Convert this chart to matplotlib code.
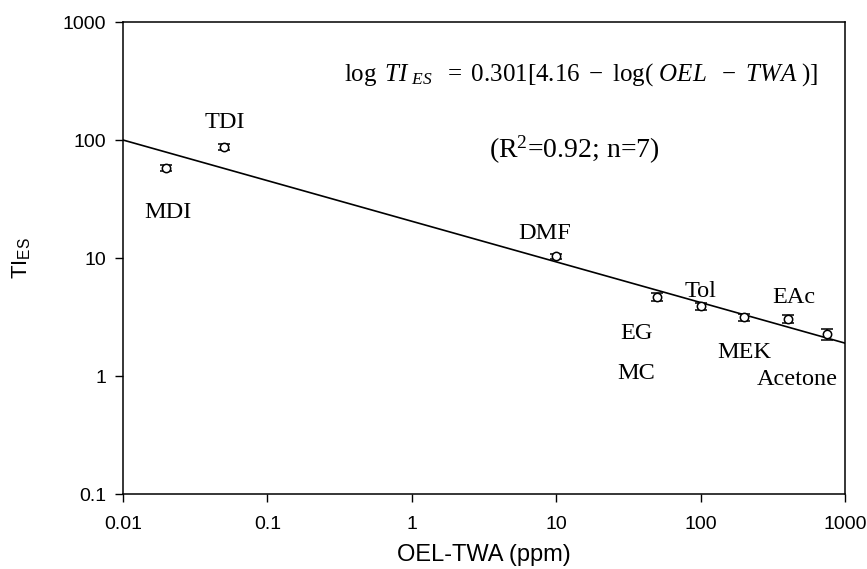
import numpy as np
import matplotlib
matplotlib.use("Agg")
import matplotlib.pyplot as plt

plt.rcParams['font.family'] = ['Liberation Sans', 'DejaVu Sans']
plt.rcParams['mathtext.fontset'] = 'custom'
plt.rcParams['mathtext.rm'] = 'Liberation Serif'
plt.rcParams['mathtext.it'] = 'Liberation Serif:italic'
plt.rcParams['mathtext.sf'] = 'Liberation Sans'

# solvent data: OEL-TWA (ppm) vs TI_ES, with spread
oel_twa = [0.02, 0.05, 10, 50, 100, 200, 400, 750]
ti_es = [58, 87, 10.3, 4.7, 3.9, 3.15, 3.05, 2.25]
ti_err = [3, 5, 0.5, 0.4, 0.25, 0.2, 0.22, 0.25]

# label text and where it sits (data coords)
names = ["MDI", "TDI", "DMF", "EG", "MC", "Tol", "MEK", "EAc", "Acetone"]
name_x = [0.0205, 0.051, 8.3, 36, 36, 100, 200, 440, 470]
name_y = [24.5, 142, 16.2, 2.27, 1.04, 5.2, 1.57, 4.65, 0.94]

# regression line ends
fit_x = [0.01, 1000]
fit_y = [100, 1.9]

fig = plt.figure(figsize=(8.67, 5.69), dpi=100)
ax = fig.add_axes([0.1419, 0.1318, 0.8327, 0.8295])

ax.plot(fit_x, fit_y, color='black', lw=1.2, zorder=2)
ax.errorbar(oel_twa, ti_es, yerr=ti_err, fmt='o', ms=6, mfc='white', mec='black',
            mew=1.1, ecolor='black', elinewidth=1.1, capsize=4.5, capthick=1.1, zorder=3)

ax.set_xscale('log')
ax.set_yscale('log')
ax.set_xlim(0.01, 1000)
ax.set_ylim(0.1, 1000)
ax.set_xticks([0.01, 0.1, 1, 10, 100, 1000])
ax.set_xticklabels(["0.01", "0.1", "1", "10", "100", "1000"])
ax.set_yticks([0.1, 1, 10, 100, 1000])
ax.set_yticklabels(["0.1", "1", "10", "100", "1000"])
ax.minorticks_off()
ax.tick_params(direction='out', length=6, width=1, labelsize=14)
ax.tick_params(axis='x', pad=10)
ax.tick_params(axis='y', pad=6)
for s in ax.spines.values():
    s.set_linewidth(1.1)

ax.set_xlabel("OEL-TWA (ppm)", fontsize=17, labelpad=8)
ax.set_ylabel(r"TI$_{\mathsf{ES}}$", fontsize=16, labelpad=22)

for n, x, y in zip(names, name_x, name_y):
    ax.text(x, y, n, family='Liberation Serif', fontsize=17.5, ha='center', va='center')

ax.text(0.634, 0.888,
        r"$\log\ TI_{\ ES}\ \ =\ 0.301[4.16\ -\ \log(\ OEL\ \ -\ TWA\ )]$",
        transform=ax.transAxes, fontsize=18, ha='center', va='center')
ax.text(0.625, 0.729, r"(R$^2$=0.92; n=7)", family='Liberation Serif',
        transform=ax.transAxes, fontsize=20, ha='center', va='center')

fig.savefig("out.png", dpi=100)
